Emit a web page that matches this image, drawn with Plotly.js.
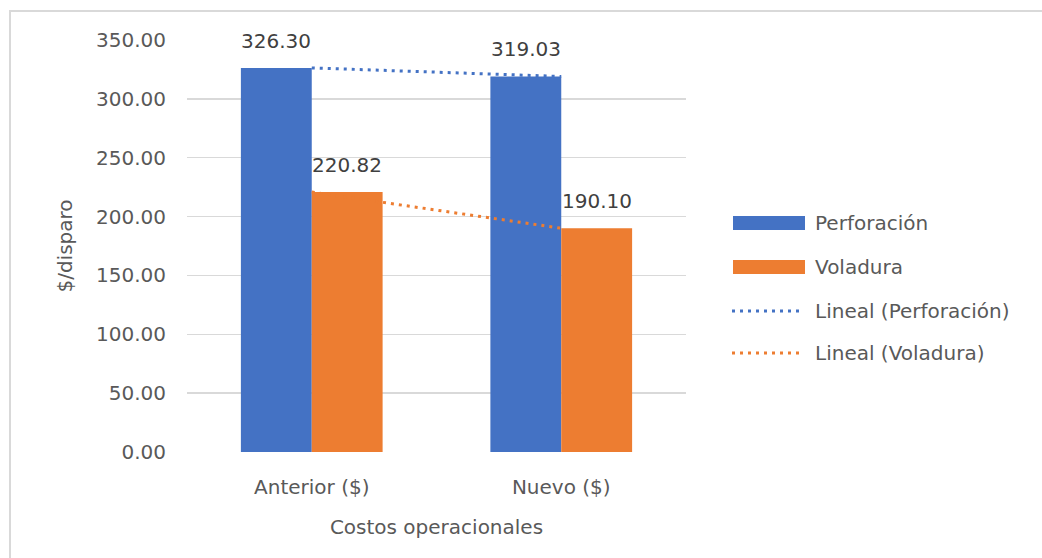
<!DOCTYPE html>
<html>
<head>
<meta charset="utf-8">
<script src="https://cdn.plot.ly/plotly-3.0.1.min.js"></script>
<style>
  html, body { margin: 0; padding: 0; background: #ffffff; }
  #chart { width: 1042px; height: 558px; position: absolute; left: 0; top: 0; }
  #frame { position: absolute; left: 9px; top: 10px; width: 1040px; height: 560px;
           border-top: 2px solid #d9d9d9; border-left: 2px solid #d9d9d9; pointer-events: none; }
</style>
</head>
<body>
<div id="chart"></div>
<div id="frame"></div>
<script>
// ---- data ----
const categories = ['Anterior ($)', 'Nuevo ($)'];
const perforacion = [326.30, 319.03];
const voladura = [220.82, 190.10];
const seriesNames = ['Perforación', 'Voladura'];
const trendNames = ['Lineal (Perforación)', 'Lineal (Voladura)'];
const yTickValues = [0, 50, 100, 150, 200, 250, 300, 350];

// linear least-squares trendline over category index
function linearFit(vals) {
  const n = vals.length;
  const xs = vals.map((_, i) => i + 1);
  const mx = xs.reduce((a, b) => a + b, 0) / n;
  const my = vals.reduce((a, b) => a + b, 0) / n;
  let num = 0, den = 0;
  for (let i = 0; i < n; i++) { num += (xs[i] - mx) * (vals[i] - my); den += (xs[i] - mx) ** 2; }
  const m = num / den, b = my - m * mx;
  return xs.map(x => m * x + b);
}

const BLUE = '#4472C4', ORANGE = '#ED7D31';
const FONT = 'DejaVu Sans';
const FS = 20;

const W = 1042, H = 558;
const M = { l: 187, r: W - 686, t: 40, b: H - 452 };
const pw = W - M.l - M.r, ph = H - M.t - M.b;
const px = x => (x - M.l) / pw;
const py = y => 1 - (y - M.t) / ph;

const traces = [
  { type: 'bar', name: seriesNames[0], x: categories, y: perforacion,
    marker: { color: BLUE }, showlegend: false, hoverinfo: 'skip' },
  { type: 'bar', name: seriesNames[1], x: categories, y: voladura,
    marker: { color: ORANGE }, showlegend: false, hoverinfo: 'skip' },
  { type: 'scatter', mode: 'lines', name: trendNames[0], x: categories, y: linearFit(perforacion),
    line: { color: BLUE, width: 3, dash: '3px,5px' }, showlegend: false, hoverinfo: 'skip' },
  { type: 'scatter', mode: 'lines', name: trendNames[1], x: categories, y: linearFit(voladura),
    line: { color: ORANGE, width: 3, dash: '3px,5px' }, showlegend: false, hoverinfo: 'skip' }
];

// data labels
const annotations = [];
const offsets = [-35.5, 35.5];
[perforacion, voladura].forEach((vals, s) => {
  vals.forEach((v, i) => {
    annotations.push({
      x: categories[i], y: v, xref: 'x', yref: 'y', text: v.toFixed(2),
      showarrow: false, xanchor: 'center', yanchor: 'bottom', xshift: offsets[s], yshift: 13,
      font: { family: FONT, size: FS, color: '#404040' }
    });
  });
});

// legend (manual, to reproduce wide swatches)
const shapes = [];
const legendY = [223, 267, 311, 353];
const legendItems = [
  { name: seriesNames[0], color: BLUE, kind: 'box' },
  { name: seriesNames[1], color: ORANGE, kind: 'box' },
  { name: trendNames[0], color: BLUE, kind: 'dot' },
  { name: trendNames[1], color: ORANGE, kind: 'dot' }
];
legendItems.forEach((it, k) => {
  const yc = legendY[k];
  if (it.kind === 'box') {
    shapes.push({ type: 'rect', xref: 'paper', yref: 'paper',
      x0: px(733), x1: px(805), y0: py(yc + 7), y1: py(yc - 7),
      fillcolor: it.color, line: { width: 0 } });
  } else {
    shapes.push({ type: 'line', xref: 'paper', yref: 'paper',
      x0: px(732), x1: px(802), y0: py(yc), y1: py(yc),
      line: { color: it.color, width: 3, dash: '3px,5px' } });
  }
  annotations.push({ xref: 'paper', yref: 'paper', x: px(813), y: py(yc),
    xanchor: 'left', yanchor: 'middle', showarrow: false, text: it.name,
    font: { family: FONT, size: FS, color: '#595959' } });
});

const layout = {
  width: W, height: H,
  margin: M,
  paper_bgcolor: 'rgba(0,0,0,0)', plot_bgcolor: '#ffffff',
  font: { family: FONT, size: FS, color: '#595959' },
  barmode: 'group', bargap: 0.432, bargroupgap: 0,
  showlegend: false,
  xaxis: {
    type: 'category', range: [-0.5, 1.5],
    showgrid: false, showline: false, zeroline: false, ticks: '',
    ticklabelstandoff: 21,
    tickfont: { family: FONT, size: FS, color: '#595959' },
    title: { text: 'Costos operacionales', standoff: 21, font: { family: FONT, size: FS, color: '#595959' } }
  },
  yaxis: {
    range: [0, 350], tickvals: yTickValues,
    ticktext: yTickValues.map(v => v.toFixed(2)),
    showgrid: true, gridcolor: '#d9d9d9', gridwidth: 1.5,
    zeroline: false, showline: false, ticks: '',
    ticklabelstandoff: 20,
    tickfont: { family: FONT, size: FS, color: '#595959' },
    title: { text: '$/disparo', standoff: 18, font: { family: FONT, size: FS, color: '#595959' } }
  },
  annotations: annotations,
  shapes: shapes
};

Plotly.newPlot('chart', traces, layout, { displayModeBar: false, staticPlot: true });
</script>
</body>
</html>
